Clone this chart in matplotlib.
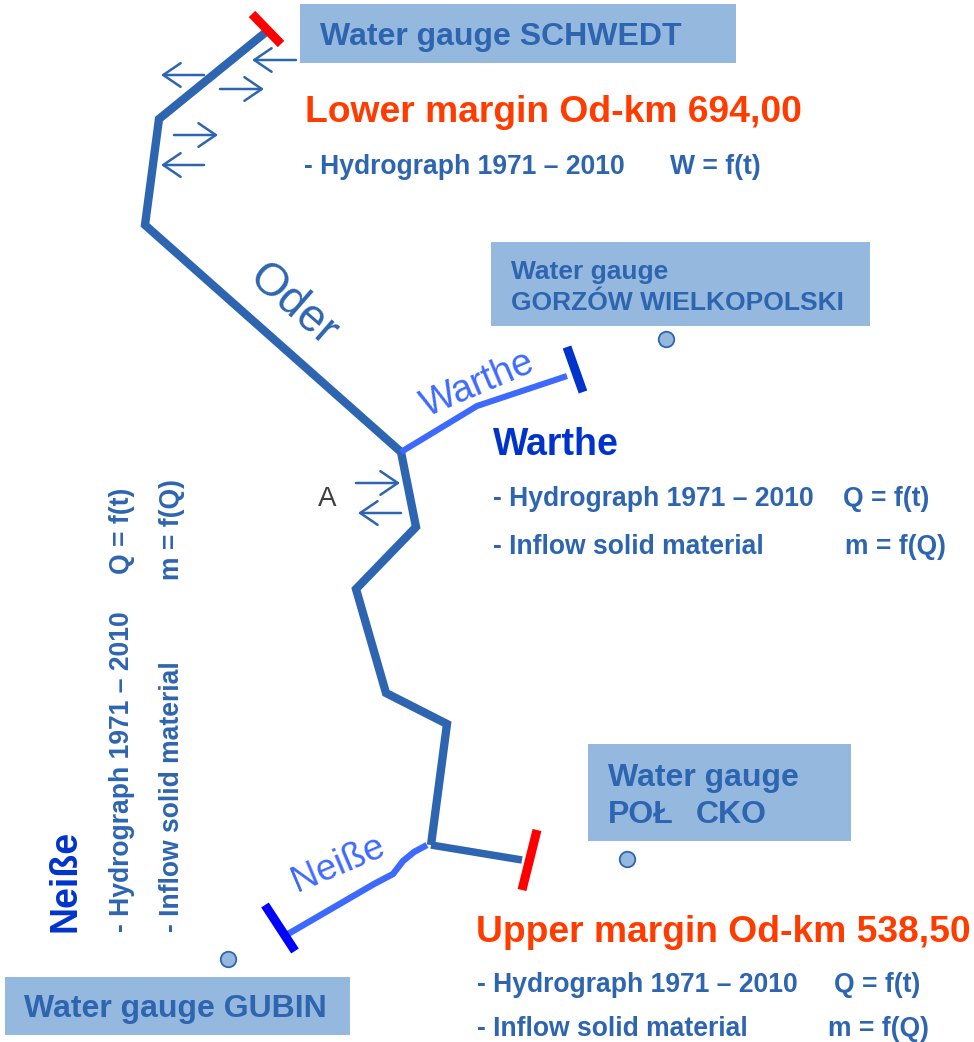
import matplotlib
matplotlib.use("Agg")
import matplotlib.pyplot as plt
from matplotlib.patches import Rectangle

# river courses (pixel coordinates)
oder_x = [266, 159, 145, 401, 416, 356, 386, 447, 431]
oder_y = [32, 119, 225, 452, 527, 589, 693, 724, 845]
oder_upper_x = [431, 522]
oder_upper_y = [845, 860]
warthe_x = [401, 477, 567]
warthe_y = [452, 406, 376]
neisse_x = [427, 414, 403, 393, 374, 288]
neisse_y = [845, 852, 861, 874, 884, 934]

# gauges
gauge_x = [666, 627, 228]
gauge_y = [339, 859, 959]

# margin bars: x0, x1, y0, y1, colour
bars = [
    (252, 281, 14, 44, "#ff0000"),
    (567, 583, 347, 392, "#0033cc"),
    (537, 522, 830, 890, "#ff0000"),
    (265, 295, 905, 951, "#0000ff"),
]

# boxes: x, y, w, h
boxes = [
    (300, 4, 436, 59),
    (491, 242, 379, 84),
    (588, 744, 263, 97),
    (5, 977, 345, 58),
]

# arrows: tail x, tail y, head x, head y
arrows = [
    (204, 75, 161, 75),
    (296, 60, 252, 60),
    (220, 89, 264, 89),
    (174, 135, 218, 135),
    (204, 165, 161, 165),
    (356, 483, 400, 483),
    (401, 513, 358, 513),
]

blue = "#2e65b0"
light_blue = "#3d69ff"
dark_blue = "#0033cc"
orange = "#ff3c00"
box_color = "#95b8de"
font = "Liberation Sans"

# x, y, text, size, colour
labels = [
    (320, 37, "Water gauge SCHWEDT", 23, blue),
    (305, 113, "Lower margin Od-km 694,00", 26.8, orange),
    (304, 167, "- Hydrograph 1971 – 2010", 19.1, blue),
    (670, 167, "W = f(t)", 19.1, blue),
    (511, 272, "Water gauge", 19, blue),
    (511, 303, "GORZÓW WIELKOPOLSKI", 19, blue),
    (493, 445, "Warthe", 27, dark_blue),
    (493, 499, "- Hydrograph 1971 – 2010", 19.1, blue),
    (843, 499, "Q = f(t)", 19.1, blue),
    (493, 547, "- Inflow solid material", 19.1, blue),
    (845, 547, "m = f(Q)", 19.1, blue),
    (608, 778, "Water gauge", 23, blue),
    (608, 815, "POŁ", 23, blue),
    (696, 815, "CKO", 23, blue),
    (476, 932, "Upper margin Od-km 538,50", 26.8, orange),
    (477, 985, "- Hydrograph 1971 – 2010", 19.1, blue),
    (834, 985, "Q = f(t)", 19.1, blue),
    (477, 1029, "- Inflow solid material", 19.1, blue),
    (828, 1029, "m = f(Q)", 19.1, blue),
    (24, 1009, "Water gauge GUBIN", 23, blue),
]

# x, y, text, size, colour (rotated 90 degrees)
side_labels = [
    (66, 932, "Neiße", 27, dark_blue),
    (122, 932, "- Hydrograph 1971 – 2010", 19.1, blue),
    (122, 574, "Q = f(t)", 19.1, blue),
    (172, 932, "- Inflow solid material", 19.1, blue),
    (172, 580, "m = f(Q)", 19.1, blue),
]

# x, y, text, size, rotation, colour (river names)
river_names = [
    (293, 305, "Oder", 33, -41, blue),
    (478, 384, "Warthe", 27, 23, light_blue),
    (338, 864, "Neiße", 26.5, 23, light_blue),
]


def main():
    fig = plt.figure(figsize=(9.74, 10.42), dpi=100)
    ax = fig.add_axes([0, 0, 1, 1])
    ax.set_xlim(0, 974)
    ax.set_ylim(1042, 0)
    ax.axis("off")

    for x, y, w, h in boxes:
        ax.add_patch(Rectangle((x, y), w, h, facecolor=box_color, edgecolor="none"))

    ax.plot(oder_x, oder_y, color=blue, lw=6, solid_joinstyle="miter", solid_capstyle="butt")
    ax.plot(oder_upper_x, oder_upper_y, color=blue, lw=5.4, solid_capstyle="butt")
    ax.plot(warthe_x, warthe_y, color=light_blue, lw=4.4, solid_capstyle="butt")
    ax.plot(neisse_x, neisse_y, color=light_blue, lw=4.6, solid_capstyle="butt")

    for x0, x1, y0, y1, c in bars:
        ax.plot([x0, x1], [y0, y1], color=c, lw=6.5, solid_capstyle="butt")

    for x0, y0, x1, y1 in arrows:
        ax.annotate("", xy=(x1, y1), xytext=(x0, y0),
                    arrowprops=dict(arrowstyle="->,head_length=1.25,head_width=0.85",
                                    color=blue, lw=1.8, shrinkA=0, shrinkB=0))

    ax.scatter(gauge_x, gauge_y, s=125, facecolor=box_color, edgecolor=blue, linewidth=1.3, zorder=3)

    for x, y, s, size, c in labels:
        ax.text(x, y, s, fontsize=size, color=c, family=font, weight="bold", ha="left", va="center")

    for x, y, s, size, c in side_labels:
        ax.text(x, y, s, fontsize=size, color=c, family=font, weight="bold",
                rotation=90, ha="center", va="bottom")

    for x, y, s, size, rot, c in river_names:
        ax.text(x, y, s, fontsize=size, color=c, family=font, rotation=rot,
                ha="center", va="center", rotation_mode="anchor")

    ax.text(327, 499, "A", fontsize=20, color="#404040", family=font, ha="center", va="center")

    fig.savefig("out.png", dpi=100)


if __name__ == "__main__":
    main()
